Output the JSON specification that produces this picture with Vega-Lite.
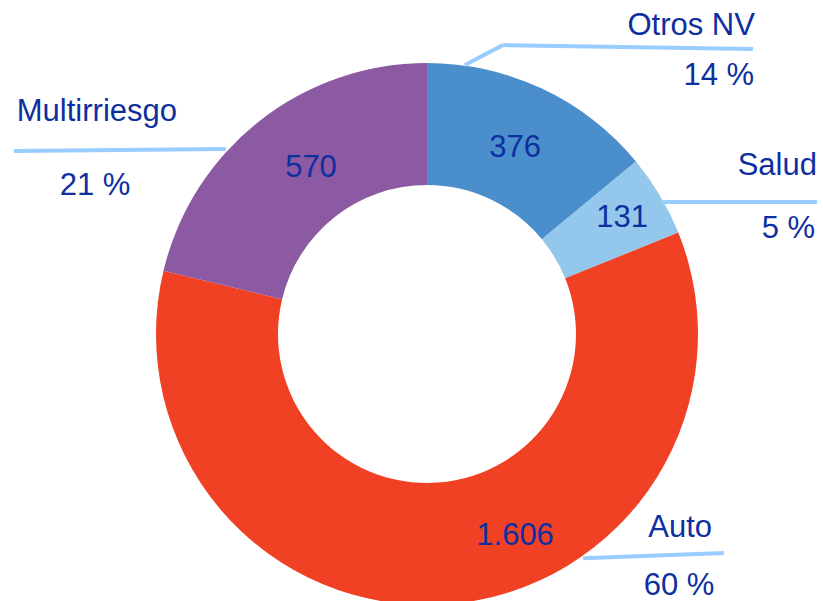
{
  "$schema": "https://vega.github.io/schema/vega-lite/v6.json",
  "width": 823,
  "height": 601,
  "padding": 0,
  "autosize": "none",
  "background": "white",
  "config": {
    "view": {"stroke": null},
    "locale": {"number": {"decimal": ",", "thousands": ".", "grouping": [3], "currency": ["", " €"], "percent": " %"}},
    "text": {"font": "Liberation Sans", "fontSize": 31, "color": "#0D2F9F"},
    "rule": {"color": "#99CCFF", "strokeWidth": 4, "strokeCap": "butt"}
  },
  "data": {
    "values": [
      {"category": "Otros NV", "value": 376, "pct": 0.14, "order": 1},
      {"category": "Salud", "value": 131, "pct": 0.05, "order": 2},
      {"category": "Auto", "value": 1606, "pct": 0.60, "order": 3},
      {"category": "Multirriesgo", "value": 570, "pct": 0.21, "order": 4}
    ]
  },
  "layer": [
    {
      "mark": {"type": "arc", "outerRadius": 271, "innerRadius": 149},
      "encoding": {
        "x": {"datum": 0, "type": "quantitative", "scale": {"domain": [-157.56, 146.13], "nice": false, "zero": false}, "axis": null},
        "y": {"datum": 0, "type": "quantitative", "scale": {"domain": [-98.52, 123.25], "nice": false, "zero": false}, "axis": null},
        "theta": {"field": "value", "type": "quantitative", "stack": true},
        "order": {"field": "order", "type": "quantitative"},
        "color": {"field": "category", "type": "nominal", "legend": null,
          "scale": {"domain": ["Otros NV", "Salud", "Auto", "Multirriesgo"], "range": ["#4A8FCC", "#93C7EC", "#F04124", "#8B5AA2"]}}
      }
    },
    {
      "transform": [{"filter": "datum.category == 'Otros NV'"}],
      "mark": {"type": "rule"},
      "encoding": {"x": {"datum": 14.0, "type": "quantitative"}, "y": {"datum": 99.3, "type": "quantitative"}, "x2": {"datum": 28.0}, "y2": {"datum": 106.6}}
    },
    {
      "transform": [{"filter": "datum.category == 'Otros NV'"}],
      "mark": {"type": "rule"},
      "encoding": {"x": {"datum": 28.0, "type": "quantitative"}, "y": {"datum": 106.6, "type": "quantitative"}, "x2": {"datum": 120.3}, "y2": {"datum": 105.2}}
    },
    {
      "transform": [{"filter": "datum.category == 'Salud'"}],
      "mark": {"type": "rule"},
      "encoding": {"x": {"datum": 87.1, "type": "quantitative"}, "y": {"datum": 48.7, "type": "quantitative"}, "x2": {"datum": 143.9}, "y2": {"datum": 48.7}}
    },
    {
      "transform": [{"filter": "datum.category == 'Auto'"}],
      "mark": {"type": "rule"},
      "encoding": {"x": {"datum": 57.6, "type": "quantitative"}, "y": {"datum": -82.7, "type": "quantitative"}, "x2": {"datum": 109.6}, "y2": {"datum": -80.8}}
    },
    {
      "transform": [{"filter": "datum.category == 'Multirriesgo'"}],
      "mark": {"type": "rule"},
      "encoding": {"x": {"datum": -152.4, "type": "quantitative"}, "y": {"datum": 67.5, "type": "quantitative"}, "x2": {"datum": -74.2}, "y2": {"datum": 68.3}}
    },
    {
      "transform": [{"filter": "datum.category == 'Otros NV'"}],
      "mark": {"type": "text", "align": "center", "baseline": "alphabetic"},
      "encoding": {"x": {"datum": 32.5, "type": "quantitative"}, "y": {"datum": 65.3, "type": "quantitative"}, "text": {"field": "value", "type": "quantitative", "format": ",d"}}
    },
    {
      "transform": [{"filter": "datum.category == 'Salud'"}],
      "mark": {"type": "text", "align": "center", "baseline": "alphabetic"},
      "encoding": {"x": {"datum": 72.0, "type": "quantitative"}, "y": {"datum": 39.5, "type": "quantitative"}, "text": {"field": "value", "type": "quantitative", "format": ",d"}}
    },
    {
      "transform": [{"filter": "datum.category == 'Auto'"}],
      "mark": {"type": "text", "align": "center", "baseline": "alphabetic"},
      "encoding": {"x": {"datum": 32.5, "type": "quantitative"}, "y": {"datum": -77.9, "type": "quantitative"}, "text": {"field": "value", "type": "quantitative", "format": ",d"}}
    },
    {
      "transform": [{"filter": "datum.category == 'Multirriesgo'"}],
      "mark": {"type": "text", "align": "center", "baseline": "alphabetic"},
      "encoding": {"x": {"datum": -42.8, "type": "quantitative"}, "y": {"datum": 57.9, "type": "quantitative"}, "text": {"field": "value", "type": "quantitative", "format": ",d"}}
    },
    {
      "transform": [{"filter": "datum.category == 'Otros NV'"}],
      "mark": {"type": "text", "align": "right", "baseline": "alphabetic"},
      "encoding": {"x": {"datum": 121.0, "type": "quantitative"}, "y": {"datum": 110.3, "type": "quantitative"}, "text": {"field": "category", "type": "nominal"}}
    },
    {
      "transform": [{"filter": "datum.category == 'Otros NV'"}],
      "mark": {"type": "text", "align": "right", "baseline": "alphabetic"},
      "encoding": {"x": {"datum": 120.7, "type": "quantitative"}, "y": {"datum": 91.9, "type": "quantitative"}, "text": {"field": "pct", "type": "quantitative", "format": ".0%"}}
    },
    {
      "transform": [{"filter": "datum.category == 'Salud'"}],
      "mark": {"type": "text", "align": "right", "baseline": "alphabetic"},
      "encoding": {"x": {"datum": 143.9, "type": "quantitative"}, "y": {"datum": 58.7, "type": "quantitative"}, "text": {"field": "category", "type": "nominal"}}
    },
    {
      "transform": [{"filter": "datum.category == 'Salud'"}],
      "mark": {"type": "text", "align": "right", "baseline": "alphabetic"},
      "encoding": {"x": {"datum": 143.2, "type": "quantitative"}, "y": {"datum": 35.4, "type": "quantitative"}, "text": {"field": "pct", "type": "quantitative", "format": ".0%"}}
    },
    {
      "transform": [{"filter": "datum.category == 'Auto'"}],
      "mark": {"type": "text", "align": "center", "baseline": "alphabetic"},
      "encoding": {"x": {"datum": 93.4, "type": "quantitative"}, "y": {"datum": -74.9, "type": "quantitative"}, "text": {"field": "category", "type": "nominal"}}
    },
    {
      "transform": [{"filter": "datum.category == 'Auto'"}],
      "mark": {"type": "text", "align": "center", "baseline": "alphabetic"},
      "encoding": {"x": {"datum": 93.0, "type": "quantitative"}, "y": {"datum": -96.3, "type": "quantitative"}, "text": {"field": "pct", "type": "quantitative", "format": ".0%"}}
    },
    {
      "transform": [{"filter": "datum.category == 'Multirriesgo'"}],
      "mark": {"type": "text", "align": "center", "baseline": "alphabetic"},
      "encoding": {"x": {"datum": -121.8, "type": "quantitative"}, "y": {"datum": 78.6, "type": "quantitative"}, "text": {"field": "category", "type": "nominal"}}
    },
    {
      "transform": [{"filter": "datum.category == 'Multirriesgo'"}],
      "mark": {"type": "text", "align": "center", "baseline": "alphabetic"},
      "encoding": {"x": {"datum": -122.5, "type": "quantitative"}, "y": {"datum": 51.3, "type": "quantitative"}, "text": {"field": "pct", "type": "quantitative", "format": ".0%"}}
    }
  ]
}
